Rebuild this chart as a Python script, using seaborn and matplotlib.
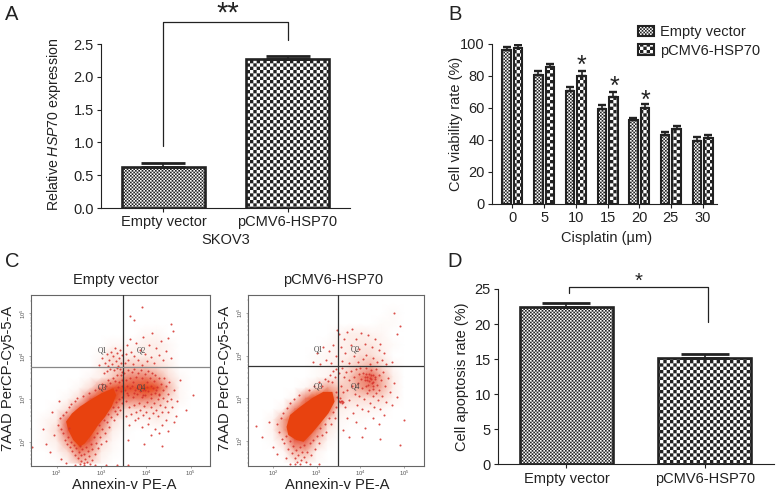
import matplotlib
matplotlib.use("Agg")
import matplotlib.hatch as mhatch
import matplotlib.pyplot as plt
from matplotlib.colors import LinearSegmentedColormap
from matplotlib.path import Path
import numpy as np
import pandas as pd
import seaborn as sns

W, H = 776, 492
INK = "#222222"

# panel A
a_groups = ["Empty vector", "pCMV6-HSP70"]
a_values = [0.63, 2.27]
a_errors = [0.05, 0.05]

# panel B
b_doses = ["0", "5", "10", "15", "20", "25", "30"]
b_empty = [96, 80.5, 70.5, 59.5, 52.5, 43, 39.5]
b_empty_err = [2, 2.2, 2.3, 2.2, 1, 2, 2]
b_hsp = [97, 85.5, 80, 66.5, 60, 46.5, 41]
b_hsp_err = [2, 2, 2.8, 3, 2.3, 2, 2]

# panel D
d_values = [22.4, 15.2]
d_errors = [0.6, 0.5]

# panel C, all log10(intensity)
grid_x = [1.5, 1.75, 2, 2.25, 2.5, 2.75, 3, 3.25, 3.5, 3.75, 4, 4.25, 4.5, 4.75, 5, 5.25, 5.5]
grid_y = [5.5, 5.25, 5, 4.75, 4.5, 4.25, 4, 3.75, 3.5, 3.25, 3, 2.75, 2.5, 2.25, 2, 1.75, 1.5]

# how thick the dots look, 0 empty to 7 solid
left_density = [
    [0, 0, 0, 0, 0, 0, 0, 0, 0, 0, 0, 0, 0, 0, 0, 0, 0],
    [0, 0, 0, 0, 0, 0, 0, 0, 0, 0, 0, 0, 0, 0, 0, 0, 0],
    [0, 0, 0, 0, 0, 0, 0, 0, 0, 0, 0, 0, 0, 0, 0, 0, 0],
    [0, 0, 0, 0, 0, 0, 0, 0, 0, 0, 0, 0, 0, 0, 0, 0, 0],
    [0, 0, 0, 0, 0, 0, 0, 0, 0, 0, .5, .5, 0, 0, 0, 0, 0],
    [0, 0, 0, 0, 0, 0, 0, .5, .5, .5, 1, 1, .5, 0, 0, 0, 0],
    [0, 0, 0, 0, 0, 0, .5, 1.5, 1, 1, 1, 1, .5, 0, 0, 0, 0],
    [0, 0, 0, 0, 0, 0, 1, 1.5, 2, 2, 2, 1.5, 1, 0, 0, 0, 0],
    [0, 0, 0, 0, 0, .5, 1, 2, 3.5, 4, 4, 3, 1.5, .5, 0, 0, 0],
    [0, 0, 0, 0, .5, 1.5, 4, 6, 6, 6, 7, 6, 2.5, .5, 0, 0, 0],
    [0, 0, 0, .5, 1.5, 5, 7, 7, 4, 4, 4, 3, 1.5, .5, 0, 0, 0],
    [0, 0, .5, 1.5, 5, 7, 7, 4, 1.5, 1.5, 1.5, 1.5, 1, 0, 0, 0, 0],
    [0, .5, 1, 5, 7, 7, 5, 1.5, .5, .5, .5, 1, .5, 0, 0, 0, 0],
    [0, .5, 1.5, 5, 7, 7, 3, 1, .3, 0, 0, 0, 0, 0, 0, 0, 0],
    [0, .5, 1, 3, 7, 5, 1.5, .5, 0, 0, 0, 0, 0, 0, 0, 0, 0],
    [0, 0, .5, 1.5, 4, 3, 1, .3, 0, 0, 0, 0, 0, 0, 0, 0, 0],
    [0, 0, 0, .5, 2, 1.5, .5, 0, 0, 0, 0, 0, 0, 0, 0, 0, 0],
]
right_density = [
    [0, 0, 0, 0, 0, 0, 0, 0, 0, 0, 0, 0, 0, 0, 0, 0, 0],
    [0, 0, 0, 0, 0, 0, 0, 0, 0, 0, 0, 0, 0, 0, 0, 0, 0],
    [0, 0, 0, 0, 0, 0, 0, 0, 0, 0, 0, 0, 0, .3, 0, 0, 0],
    [0, 0, 0, 0, 0, 0, 0, 0, 0, 0, 0, 0, .3, .3, 0, 0, 0],
    [0, 0, 0, 0, 0, 0, 0, 0, .5, 1, 1, .7, .5, 0, 0, 0, 0],
    [0, 0, 0, 0, 0, 0, 0, .3, .7, 1, 1.2, 1.2, .7, .3, 0, 0, 0],
    [0, 0, 0, 0, 0, 0, .3, .5, .7, 1, 1.5, 1.5, 1, 0, 0, 0, 0],
    [0, 0, 0, 0, 0, 0, .3, .5, 1, 1.5, 2, 2.5, 1.5, .5, 0, 0, 0],
    [0, 0, 0, 0, 0, 0, .3, .7, 1.2, 2, 3.5, 5, 2.5, 1, 0, 0, 0],
    [0, 0, 0, 0, 0, .5, 1.5, 3, 2, 2, 3, 4, 2.5, 1, 0, 0, 0],
    [0, 0, 0, 0, .7, 4, 7, 7, 2.5, 1.5, 1.5, 1.5, 1.5, .7, 0, 0, 0],
    [0, 0, 0, .7, 4, 7, 7, 6, 1, .7, .7, .7, .5, 0, 0, 0, 0],
    [0, 0, .7, 3, 7, 7, 7, 2, .5, .3, .3, 0, 0, 0, 0, 0, 0],
    [0, 0, .7, 3, 7, 7, 4, 1.2, .3, 0, 0, 0, 0, 0, 0, 0, 0],
    [0, 0, .3, 1.5, 5, 5, 2, .5, 0, 0, 0, 0, 0, 0, 0, 0, 0],
    [0, 0, 0, .5, 2.5, 2.5, .7, 0, 0, 0, 0, 0, 0, 0, 0, 0, 0],
    [0, 0, 0, 0, 1, 1, .3, 0, 0, 0, 0, 0, 0, 0, 0, 0, 0],
]

left_blob = [(2.21, 2.47), (2.34, 2.66), (2.52, 2.82), (2.74, 2.97), (3.01, 3.14), (3.27, 3.25), (3.33, 3.09),
             (3.23, 2.82), (3.08, 2.58), (2.93, 2.39), (2.78, 2.16), (2.63, 1.96), (2.52, 1.88), (2.37, 2.04), (2.26, 2.27)]
right_blob = [(2.31, 2.33), (2.39, 2.61), (2.62, 2.80), (2.89, 3.0), (3.15, 3.15), (3.36, 3.15), (3.41, 2.92),
              (3.27, 2.65), (3.08, 2.41), (2.89, 2.18), (2.70, 1.98), (2.54, 2.02), (2.35, 2.14)]
left_q3 = [(2.02, 2.4), (1.95, 2.15), (2.08, 2.55), (2.1, 2.3), (2.14, 2.2), (2.15, 2.62), (2.18, 2.05), (2.2, 2.7),
           (2.22, 1.95), (2.25, 2.12), (2.27, 2.8), (2.28, 2.32), (2.3, 1.88), (2.32, 2.0), (2.33, 2.88), (2.35, 1.78),
           (2.38, 1.92), (2.4, 2.95), (2.42, 1.7), (2.44, 1.85), (2.46, 3.02), (2.48, 1.62), (2.5, 1.76), (2.52, 1.9),
           (2.54, 1.56), (2.55, 1.68), (2.57, 1.82), (2.58, 3.08), (2.6, 1.5), (2.62, 1.72), (2.64, 1.6), (2.66, 1.88),
           (2.68, 1.52), (2.7, 1.78), (2.72, 3.15), (2.73, 1.66), (2.76, 1.95), (2.78, 1.58), (2.8, 1.82), (2.83, 2.1),
           (2.85, 1.72), (2.88, 1.98), (2.9, 2.2), (2.93, 1.85), (2.95, 2.4), (2.98, 2.1), (3.0, 1.95), (3.02, 2.3),
           (3.05, 2.5), (3.08, 2.2), (3.1, 2.02), (3.13, 2.45), (3.15, 2.65), (3.18, 2.35), (3.22, 2.58), (3.25, 2.8),
           (3.28, 2.5), (3.3, 2.72), (3.33, 2.92), (3.36, 2.65), (3.38, 2.82), (3.4, 3.0), (3.42, 2.75), (3.45, 3.05),
           (3.47, 2.9), (2.85, 3.2), (2.95, 3.25), (3.02, 3.35), (3.1, 3.3), (3.15, 3.45), (3.2, 3.38), (3.25, 3.5),
           (3.3, 3.42), (3.35, 3.55), (3.4, 3.4), (3.45, 3.3), (3.38, 3.28), (3.43, 3.55), (3.46, 3.62), (3.05, 3.6),
           (3.12, 3.65), (3.2, 3.7), (3.28, 3.68), (3.36, 3.72), (3.42, 3.7), (1.7, 2.3), (1.9, 2.7), (1.75, 1.95),
           (2.1, 1.6), (2.2, 1.5), (1.85, 1.75), (2.05, 2.95), (1.44, 1.88), (2.4, 1.45), (2.6, 1.45), (2.85, 1.45),
           (3.1, 1.45), (3.35, 1.45), (3.6, 1.45), (2.75, 1.48), (2.52, 1.47), (3.32, 3.2), (3.44, 3.18), (3.47, 3.45)]
left_q4 = [(3.5, 3.6), (3.53, 3.2), (3.55, 3.45), (3.56, 2.95), (3.58, 3.3), (3.6, 3.68), (3.6, 3.1), (3.62, 2.8), (3.63, 3.5),
           (3.65, 3.25), (3.66, 2.65), (3.68, 3.62), (3.7, 3.05), (3.71, 3.4), (3.73, 2.85), (3.74, 3.7), (3.75, 3.2),
           (3.77, 2.7), (3.78, 3.52), (3.8, 3.12), (3.81, 2.55), (3.83, 3.6), (3.84, 2.9), (3.85, 3.33), (3.87, 2.75),
           (3.88, 3.68), (3.9, 3.05), (3.91, 3.48), (3.92, 2.62), (3.94, 3.22), (3.95, 2.84), (3.97, 3.58), (3.98, 3.1),
           (4.0, 2.7), (4.01, 3.4), (4.03, 2.92), (4.04, 3.65), (4.05, 3.18), (4.07, 2.55), (4.08, 3.5), (4.1, 2.8),
           (4.11, 3.3), (4.12, 3.02), (4.14, 3.6), (4.15, 2.68), (4.17, 3.42), (4.18, 2.9), (4.2, 3.15), (4.21, 3.55),
           (4.23, 2.75), (4.24, 3.28), (4.26, 3.0), (4.27, 2.6), (4.29, 3.48), (4.3, 3.12), (4.32, 2.85), (4.33, 3.36),
           (4.35, 2.7), (4.37, 3.22), (4.38, 3.02), (4.4, 3.5), (4.42, 2.8), (4.44, 3.3), (4.46, 2.95), (4.48, 3.12),
           (4.5, 2.7), (4.52, 3.4), (4.55, 3.0), (4.58, 2.82), (4.62, 3.2), (4.66, 2.6), (4.7, 2.95), (4.35, 2.4), (4.2, 2.3),
           (4.05, 2.42), (3.9, 2.35), (3.75, 2.5), (3.62, 2.4), (3.55, 2.6), (4.45, 2.5), (4.28, 2.2), (4.5, 2.25),
           (4.12, 2.15), (4.62, 2.45), (4.9, 2.75), (5.05, 3.1), (4.75, 3.45), (3.6, 2.05), (3.95, 1.95), (4.35, 1.9),
           (3.72, 3.15), (3.8, 3.25), (3.92, 3.1), (4.02, 3.28), (4.1, 3.12), (4.22, 3.22), (3.68, 3.3), (3.86, 3.18),
           (3.98, 3.22), (4.16, 3.26), (4.28, 3.1), (3.58, 3.14)]
left_upper = [(2.95, 3.8), (3.02, 3.95), (3.08, 3.85), (3.12, 4.05), (3.15, 3.78), (3.18, 3.92), (3.22, 4.1), (3.24, 3.82),
              (3.27, 4.0), (3.3, 4.2), (3.32, 3.88), (3.35, 4.08), (3.37, 3.78), (3.4, 3.95), (3.42, 4.15), (3.44, 3.85),
              (3.46, 4.02), (3.52, 3.85), (3.55, 4.05), (3.58, 4.25), (3.6, 3.92), (3.63, 4.4), (3.66, 4.1), (3.7, 3.82),
              (3.74, 4.0), (3.78, 4.3), (3.82, 3.9), (3.86, 4.15), (3.9, 3.8), (3.94, 4.45), (3.98, 4.05), (4.02, 3.88),
              (4.06, 4.25), (4.1, 3.98), (4.14, 4.55), (4.18, 3.85), (4.22, 4.2), (4.28, 4.02), (4.34, 4.35), (4.38, 3.92),
              (4.45, 4.12), (4.5, 4.42), (4.55, 3.95), (4.6, 4.6), (4.55, 4.75), (3.72, 4.85), (3.9, 5.15), (3.65, 4.95)]

right_q3 = [(2.1, 2.4), (2.14, 2.2), (2.18, 2.55), (2.2, 2.05), (2.24, 2.65), (2.26, 1.95), (2.3, 2.12), (2.32, 2.78), (2.35, 1.82),
            (2.38, 2.0), (2.4, 2.9), (2.43, 1.72), (2.45, 1.88), (2.48, 2.98), (2.5, 1.6), (2.53, 1.78), (2.55, 1.5), (2.58, 1.68),
            (2.6, 3.08), (2.62, 1.85), (2.64, 1.55), (2.67, 1.74), (2.7, 1.62), (2.72, 1.9), (2.75, 1.5), (2.78, 1.75),
            (2.82, 3.2), (2.84, 1.95), (2.88, 1.68), (2.92, 2.02), (2.96, 1.82), (3.0, 2.12), (3.05, 1.95), (3.08, 2.3),
            (3.12, 2.15), (3.18, 2.4), (3.22, 2.22), (3.28, 2.55), (3.33, 2.4), (3.38, 2.68), (3.42, 2.55), (3.45, 2.8),
            (3.47, 3.02), (3.44, 3.15), (2.95, 3.3), (3.05, 3.38), (3.12, 3.3), (3.18, 3.45), (3.25, 3.4), (3.3, 3.55),
            (3.36, 3.38), (3.42, 3.5), (3.45, 3.68), (3.38, 3.65), (1.75, 2.1), (1.9, 2.45), (1.6, 2.35), (2.0, 1.85),
            (2.3, 1.6), (2.1, 1.7), (2.4, 1.45), (2.62, 1.45), (2.85, 1.46), (3.05, 1.45), (2.5, 1.46), (3.52, 2.93),
            (3.54, 2.92), (3.56, 2.94), (3.58, 2.93), (3.6, 2.92), (3.53, 3.0), (3.57, 2.88)]
right_q4 = [(3.52, 3.6), (3.55, 3.3), (3.58, 3.7), (3.6, 3.15), (3.63, 3.5), (3.66, 2.8), (3.68, 3.62), (3.7, 3.2), (3.73, 3.42),
            (3.75, 2.95), (3.78, 3.65), (3.8, 3.28), (3.83, 2.65), (3.85, 3.5), (3.88, 3.1), (3.9, 3.68), (3.92, 2.85), (3.95, 3.35),
            (3.97, 3.58), (3.98, 3.05), (4.0, 3.72), (4.02, 3.45), (4.04, 2.75), (4.05, 3.25), (4.07, 3.6), (4.08, 2.98),
            (4.1, 3.5), (4.12, 3.3), (4.13, 3.7), (4.15, 3.12), (4.16, 3.42), (4.18, 2.7), (4.19, 3.58), (4.2, 3.2),
            (4.22, 3.48), (4.23, 2.9), (4.25, 3.66), (4.26, 3.35), (4.28, 3.05), (4.29, 3.55), (4.3, 3.22), (4.32, 2.8),
            (4.33, 3.45), (4.35, 3.68), (4.36, 3.12), (4.38, 3.32), (4.4, 2.95), (4.42, 3.55), (4.44, 3.2), (4.46, 2.75),
            (4.48, 3.42), (4.5, 3.05), (4.53, 3.62), (4.56, 3.28), (4.6, 2.92), (4.64, 3.48), (4.68, 3.15), (4.72, 2.85),
            (4.78, 3.35), (4.85, 3.02), (4.15, 3.5), (4.2, 3.4), (4.25, 3.45), (4.1, 3.42), (4.3, 3.38), (4.18, 3.32),
            (4.24, 3.55), (4.28, 3.3), (4.12, 3.58), (4.34, 3.5), (3.7, 2.55), (3.9, 2.45), (4.1, 2.3), (4.3, 2.55), (4.42, 2.4),
            (4.55, 2.6), (3.6, 2.25), (4.05, 2.1), (4.45, 2.05), (4.9, 1.9), (5.0, 2.5), (3.75, 2.1)]
right_upper = [(2.92, 3.85), (3.0, 4.05), (3.08, 3.8), (3.15, 4.2), (3.22, 3.9), (3.28, 4.1), (3.34, 3.82), (3.38, 4.25), (3.44, 4.0),
               (3.46, 4.6), (3.52, 4.5), (3.55, 4.2), (3.58, 3.88), (3.62, 4.4), (3.66, 4.05), (3.7, 4.55), (3.74, 3.82),
               (3.78, 4.25), (3.82, 4.62), (3.85, 4.0), (3.9, 4.4), (3.94, 3.85), (3.98, 4.15), (4.02, 4.52), (4.06, 3.92),
               (4.1, 4.28), (4.14, 4.02), (4.18, 4.48), (4.22, 3.8), (4.26, 4.2), (4.3, 3.95), (4.34, 4.38), (4.38, 3.85),
               (4.42, 4.12), (4.46, 4.28), (4.5, 3.9), (4.55, 4.05), (4.6, 3.8), (4.72, 3.85), (4.85, 4.5), (4.92, 4.7), (4.78, 5.0)]


# tells get_path that '.' means checks, one '.' = 6 rows per inch
class Checker(mhatch.HatchPatternBase):
    filled = True

    def __init__(self, hatch, density):
        self.rows = hatch.count(".") * density
        self.num_vertices = self.rows * self.rows // 2 * 5

    def set_vertices_and_codes(self, vertices, codes):
        d = 1.0 / self.rows
        n = 0
        for r in range(self.rows):
            for c in range(self.rows):
                if (r + c) % 2:
                    continue
                x, y = c * d, r * d
                vertices[n:n + 5] = [(x, y), (x, y + d), (x + d, y + d), (x + d, y), (x, y)]
                codes[n:n + 5] = [Path.MOVETO, Path.LINETO, Path.LINETO, Path.LINETO, Path.CLOSEPOLY]
                n += 5


mhatch._hatch_types = [Checker]

sns.set_theme(style="ticks")
plt.rcParams["font.family"] = ["Liberation Sans", "DejaVu Sans"]
plt.rcParams["mathtext.fontset"] = "custom"
plt.rcParams["mathtext.it"] = "Liberation Sans:italic"
plt.rcParams["mathtext.rm"] = "Liberation Sans"
plt.rcParams["hatch.linewidth"] = 0.01
plt.rcParams["text.color"] = INK
plt.rcParams["axes.labelcolor"] = INK
plt.rcParams["xtick.color"] = INK
plt.rcParams["ytick.color"] = INK
plt.rcParams["axes.edgecolor"] = INK

FINE = ".........."
COARSE = "....."
FS = 10.5
flow_cmap = LinearSegmentedColormap.from_list(
    "flow", [(0, "#ffffff"), (0.15, "#fdeee9"), (0.45, "#f19c88"), (0.72, "#e8604a"), (1, "#e8420f")])

fig = plt.figure(figsize=(W / 100, H / 100), dpi=100)


def px_axes(left, top, right, bottom):
    return fig.add_axes([left / W, 1 - bottom / H, (right - left) / W, (bottom - top) / H])


def px_text(x, y, s, size=FS, **kw):
    kw.setdefault("ha", "center")
    kw.setdefault("va", "baseline")
    fig.text(x / W, 1 - y / H, s, fontsize=size, **kw)


def style_axes(ax):
    sns.despine(ax=ax)
    ax.tick_params(labelsize=FS, length=3.2, width=0.8, pad=2)
    ax.spines["left"].set_linewidth(0.8)
    ax.spines["bottom"].set_linewidth(0.8)


def two_bars(ax, values, errors, xlim, ylim, edge_lw, cap):
    sns.barplot(x=a_groups, y=values, ax=ax, width=0.67, color="white", saturation=1,
                edgecolor=INK, linewidth=edge_lw)
    for patch, pattern in zip(ax.patches, [FINE, COARSE]):
        patch.set_hatch(pattern)
    ax.errorbar([0, 1], values, yerr=[[0, 0], errors], fmt="none", ecolor=INK, elinewidth=1.2,
                capsize=cap, capthick=2)
    ax.set_xlim(*xlim)
    ax.set_ylim(*ylim)
    style_axes(ax)


# A
ax_a = px_axes(101, 44, 350, 208)
two_bars(ax_a, a_values, a_errors, (-0.504, 1.504), (0, 2.5), 1.9, 15.5)
ax_a.set_yticks([0, 0.5, 1, 1.5, 2, 2.5], ["0.0", "0.5", "1.0", "1.5", "2.0", "2.5"])
ax_a.set_ylabel(r"Relative $\mathit{HSP70}$ expression", fontsize=10.2)
ax_a.yaxis.set_label_coords(-0.153, 0.51)
ax_a.set_xlabel("SKOV3", fontsize=FS)
ax_a.xaxis.set_label_coords(0.5, -0.155)
ax_a.plot([0, 0, 1, 1], [0.945, 2.835, 2.835, 2.56], color=INK, lw=0.9, clip_on=False)

# B
ax_b = px_axes(492, 43.5, 717, 204)
long_b = pd.DataFrame({
    "dose": b_doses * 2,
    "rate": b_empty + b_hsp,
    "group": ["Empty vector"] * len(b_doses) + ["pCMV6-HSP70"] * len(b_doses),
})
sns.barplot(data=long_b, x="dose", y="rate", hue="group", ax=ax_b, width=0.733, gap=0.277, legend=False,
            palette=["white", "white"], saturation=1, edgecolor=INK, linewidth=1.5)
for container, pattern, errs in zip(ax_b.containers, [FINE, COARSE], [b_empty_err, b_hsp_err]):
    xs = []
    for patch in container:
        patch.set_hatch(pattern)
        xs.append(patch.get_x() + patch.get_width() / 2)
    tops = [patch.get_height() for patch in container]
    ax_b.errorbar(xs, tops, yerr=[[0] * len(errs), errs], fmt="none", ecolor=INK, elinewidth=1.2,
                  capsize=3, capthick=1.7)
ax_b.set_xlim(-0.647, 6.457)
ax_b.set_ylim(0, 100)
style_axes(ax_b)
ax_b.set_ylabel("Cell viability rate (%)", fontsize=FS)
ax_b.yaxis.set_label_coords(-0.129, 0.5)
ax_b.set_xlabel("Cisplatin (µm)", fontsize=FS)
ax_b.xaxis.set_label_coords(0.51, -0.17)
ax_b.legend(ax_b.containers, ["Empty vector", "pCMV6-HSP70"], loc="upper left",
            bbox_to_anchor=(637.5 / W, 1 - 25 / H), bbox_transform=fig.transFigure, frameon=False,
            fontsize=FS, borderpad=0, borderaxespad=0, handlelength=1.12, handleheight=0.75,
            handletextpad=0.42, labelspacing=0.33)


def draw_flow(ax, density, blob, points, box, gate_x, gate_y, hline_color):
    ax.set_xscale("log")
    ax.set_yscale("log")
    for spine in ax.spines.values():
        spine.set_color("#666666")
        spine.set_linewidth(0.8)
    ax.pcolormesh(10 ** np.array(grid_x), 10 ** np.array(grid_y), np.array(density), shading="gouraud",
                  cmap=flow_cmap, vmin=0, vmax=7, zorder=1)
    arr = 10 ** np.array(blob)
    ax.fill(arr[:, 0], arr[:, 1], color="#e8420f", lw=0, zorder=1.5)
    pts = 10 ** np.array(points)
    sns.scatterplot(x=pts[:, 0], y=pts[:, 1], ax=ax, s=2.2, color="#d5302a", linewidth=0, alpha=0.85, zorder=2)
    ax.axvline(10 ** gate_x, color="#333333", lw=0.9, zorder=3)
    ax.axhline(10 ** gate_y, color=hline_color, lw=0.9, zorder=3)
    ax.set_xlim(10 ** box[0], 10 ** box[1])
    ax.set_ylim(10 ** box[2], 10 ** box[3])
    ax.tick_params(which="major", length=1.6, width=0.4, labelsize=4.2, pad=0.6, color="#666666", labelcolor="#555555")
    ax.tick_params(which="minor", length=0.9, width=0.3, color="#888888")
    ax.set_xticks([1e2, 1e3, 1e4, 1e5], ["$10^2$", "$10^3$", "$10^4$", "$10^5$"])
    ax.set_yticks([1e2, 1e3, 1e4, 1e5], ["$10^2$", "$10^3$", "$10^4$", "$10^5$"])
    plt.setp(ax.get_yticklabels(), rotation=90, va="center")
    for x, y, name in [(3.03, 4.135, "Q1"), (3.9, 4.135, "Q2"), (3.03, 3.27, "Q3"), (3.9, 3.27, "Q4")]:
        ax.text(10 ** x, 10 ** y, name, fontsize=5.5, family="Liberation Serif", color="#444444",
                ha="center", va="center", zorder=4)


# C
ax_c1 = px_axes(31, 295, 210, 466)
draw_flow(ax_c1, left_density, left_blob, left_q3 + left_q4 + left_upper,
          (1.425, 5.43, 1.432, 5.43), 3.48, 3.745, "#888888")
ax_c2 = px_axes(248, 295, 424, 465.5)
draw_flow(ax_c2, right_density, right_blob, right_q3 + right_q4 + right_upper,
          (1.427, 5.46, 1.426, 5.42), 3.5, 3.756, "#333333")
px_text(115.7, 284, "Empty vector")
px_text(333, 284, "pCMV6-HSP70")
px_text(124, 489, "Annexin-v PE-A", size=10.6)
px_text(337, 489, "Annexin-v PE-A", size=10.6)
px_text(12, 378, "7AAD PerCP-Cy5-5-A", size=10.6, rotation=90, rotation_mode="anchor")
px_text(229, 378, "7AAD PerCP-Cy5-5-A", size=10.6, rotation=90, rotation_mode="anchor")

# D
ax_d = px_axes(498, 289, 774, 464.3)
two_bars(ax_d, d_values, d_errors, (-0.494, 1.50), (0, 25), 1.9, 17)
ax_d.set_yticks([0, 5, 10, 15, 20, 25])
ax_d.set_ylabel("Cell apoptosis rate (%)", fontsize=FS)
ax_d.yaxis.set_label_coords(-0.105, 0.5)
ax_d.plot([0.02, 0.02, 1.02, 1.02], [24.5, 25.25, 25.25, 20.25], color=INK, lw=0.9, clip_on=False)

# stars and panel letters
px_text(228, 22, "**", size=21)
px_text(581, 73, "*", size=18)
px_text(614, 94, "*", size=18)
px_text(645.7, 108, "*", size=18)
px_text(639, 287, "*", size=14.5)
px_text(12, 20, "A", size=14.5)
px_text(455, 20, "B", size=14.5)
px_text(12, 267, "C", size=14.5)
px_text(455, 267, "D", size=14.5)

fig.savefig("out.png", dpi=100)
